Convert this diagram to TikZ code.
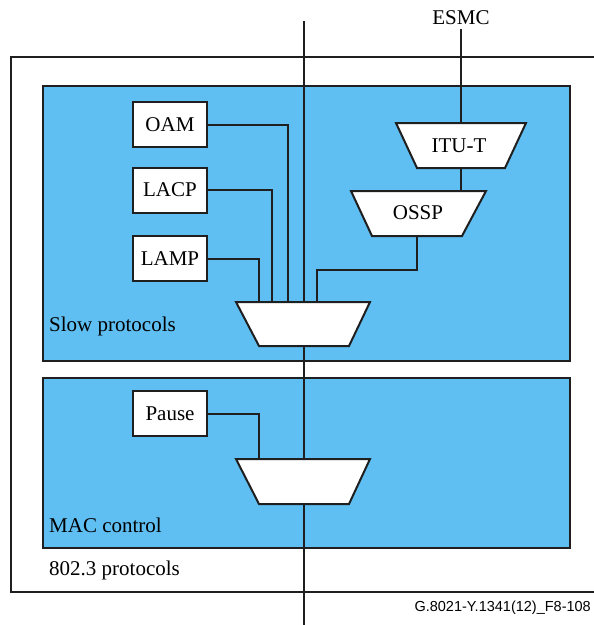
\documentclass[tikz,border=0pt]{standalone}
\usepackage{fontspec}
\setmainfont{Liberation Serif}
\newfontfamily\labelfont{Liberation Sans}
\definecolor{protblue}{RGB}{95,190,242}
\begin{document}
\begin{tikzpicture}[x=1pt,y=-1pt,
  ln/.style={line width=2pt,draw=black!88},
  blk/.style={ln,fill=white,minimum width=74pt,minimum height=45pt,inner sep=0pt,font=\rmfamily\fontsize{21}{24}\selectfont},
  lbl/.style={inner sep=0pt,font=\rmfamily\fontsize{21}{24}\selectfont},
  grp/.style={ln,fill=protblue}]
\useasboundingbox (0,0) rectangle (594,625);
% outer 802.3 box
\draw[ln] (600,57) -- (11,57) -- (11,592) -- (600,592);
% groups
\draw[grp] (43,86) rectangle (570,361);
\draw[grp] (43,378) rectangle (570,548);
% labels
\node[lbl,anchor=base west] (slowlbl) at (49,331) {Slow protocols};
\node[lbl,anchor=base west] (maclbl) at (49,532) {MAC control};
\node[lbl,anchor=base west] (protlbl) at (49,575) {802.3 protocols};
\node[lbl,anchor=base] (esmc) at (461,24) {ESMC};
\node[inner sep=0pt,anchor=base east,font=\labelfont\fontsize{14.5}{16}\selectfont] (figid) at (591,611) {G.8021-Y.1341(12)\_F8-108};
% end points
\coordinate (maintop) at (304,21);
\coordinate (mainbot) at (304,625);
\coordinate (esmctop) at (461,29);
% boxes
\node[blk] (oam) at (170,124.5) {OAM};
\node[blk] (lacp) at (170,190) {LACP};
\node[blk] (lamp) at (170,258.5) {LAMP};
\node[blk] (pause) at (170,413.5) {Pause};
% mux 1
\coordinate (m1tl) at (236,302); \coordinate (m1tr) at (370,302);
\coordinate (m1br) at (349,346); \coordinate (m1bl) at (259,346);
\coordinate (m1top) at (304,302); \coordinate (m1bot) at (304,346);
% mux 2
\coordinate (m2tl) at (236,459); \coordinate (m2tr) at (370,459);
\coordinate (m2br) at (349,504); \coordinate (m2bl) at (259,504);
\coordinate (m2top) at (304,459); \coordinate (m2bot) at (304,504);
% ITU-T
\coordinate (i1) at (396,123); \coordinate (i2) at (526,123);
\coordinate (i3) at (505,168); \coordinate (i4) at (417,168);
\coordinate (itop) at (461,123); \coordinate (ibot) at (461,168);
% OSSP
\coordinate (o1) at (351,191); \coordinate (o2) at (486,191);
\coordinate (o3) at (462,236); \coordinate (o4) at (372,236);
\coordinate (otop) at (461,191); \coordinate (obot) at (417,236);
% connectors
\draw[ln] (maintop) -- (m1top);
\draw[ln] (m1bot) -- (m2top);
\draw[ln] (m2bot) -- (mainbot);
\draw[ln] (esmctop) -- (itop);
\draw[ln] (ibot) -- (otop);
\draw[ln] (obot) -- (417,270) -| (317,302);
\draw[ln] (oam.east) -| (288,302);
\draw[ln] (lacp.east) -| (272,302);
\draw[ln] (lamp.east) -| (259,302);
\draw[ln] (pause.east) -| (259,459);
% shapes
\draw[ln,fill=white,line join=miter] (m1tl) -- (m1tr) -- (m1br) -- (m1bl) -- cycle;
\draw[ln,fill=white,line join=miter] (m2tl) -- (m2tr) -- (m2br) -- (m2bl) -- cycle;
\draw[ln,fill=white,line join=miter] (i1) -- (i2) -- (i3) -- (i4) -- cycle;
\draw[ln,fill=white,line join=miter] (o1) -- (o2) -- (o3) -- (o4) -- cycle;
\node[lbl] (itut) at (459,146) {ITU-T};
\node[lbl] (ossp) at (418,213) {OSSP};
\end{tikzpicture}
\end{document}
